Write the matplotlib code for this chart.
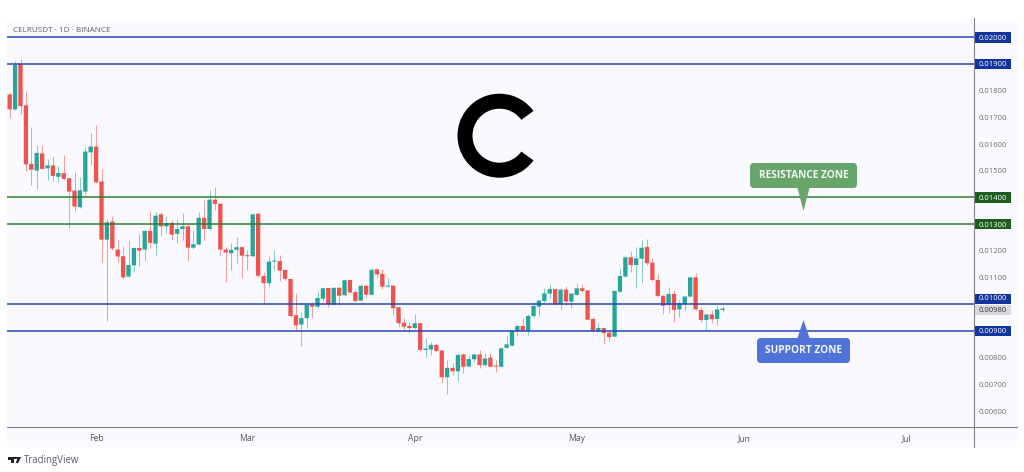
import numpy as np
import matplotlib
matplotlib.use("Agg")
import matplotlib.pyplot as plt
import matplotlib.dates as mdates
from matplotlib.patches import Rectangle, FancyBboxPatch, Polygon, Wedge
from matplotlib.transforms import blended_transform_factory

symbol_title = "CELRUSDT · 1D · BINANCE"
start_date = "2025-01-16"

opens = [
0.01786,0.01730,0.01899,0.01745,0.01526,0.01501,0.01565,0.01509,0.01520,0.01478,
0.01491,0.01472,0.01426,0.01364,0.01422,0.01569,0.01591,0.01460,0.01242,0.01310,
0.01205,0.01180,0.01104,0.01146,0.01211,0.01205,0.01275,0.01227,0.01337,0.01292,
0.01305,0.01264,0.01282,0.01292,0.01212,0.01224,0.01324,0.01282,0.01392,0.01377,
0.01205,0.01191,0.01204,0.01214,0.01182,0.01180,0.01339,0.01106,0.01079,0.01160,
0.01162,0.01129,0.01095,0.00959,0.00924,0.00948,0.00999,0.00991,0.01021,0.01061,
0.00999,0.01062,0.01034,0.01091,0.01046,0.01014,0.01069,0.01036,0.01131,0.01114,
0.01066,0.01070,0.00989,0.00931,0.00919,0.00911,0.00929,0.00829,0.00831,0.00848,
0.00827,0.00727,0.00762,0.00749,0.00812,0.00767,0.00794,0.00812,0.00772,0.00800,
0.00770,0.00766,0.00837,0.00845,0.00900,0.00919,0.00901,0.00956,0.00991,0.01012,
0.01040,0.01057,0.01001,0.01055,0.01010,0.01035,0.01060,0.01052,0.00945,0.00901,
0.00911,0.00894,0.00879,0.01047,0.01104,0.01176,0.01147,0.01171,0.01215,0.01156,
0.01091,0.01032,0.00997,0.01039,0.00981,0.01001,0.01029,0.01101,0.00979,0.00941,
0.00962,0.00945,0.00979]
closes = [
0.01730,0.01896,0.01742,0.01524,0.01504,0.01567,0.01507,0.01520,0.01481,0.01492,
0.01470,0.01422,0.01366,0.01427,0.01572,0.01591,0.01457,0.01242,0.01307,0.01209,
0.01179,0.01101,0.01147,0.01211,0.01201,0.01275,0.01230,0.01332,0.01292,0.01304,
0.01261,0.01282,0.01292,0.01212,0.01225,0.01324,0.01282,0.01392,0.01376,0.01205,
0.01194,0.01204,0.01214,0.01182,0.01180,0.01337,0.01107,0.01079,0.01160,0.01162,
0.01126,0.01095,0.00956,0.00921,0.00948,0.00999,0.00991,0.01024,0.01060,0.00999,
0.01062,0.01032,0.01090,0.01044,0.01012,0.01069,0.01036,0.01129,0.01112,0.01066,
0.01069,0.00985,0.00929,0.00916,0.00911,0.00929,0.00829,0.00834,0.00848,0.00825,
0.00727,0.00762,0.00749,0.00810,0.00766,0.00795,0.00812,0.00772,0.00797,0.00766,
0.00767,0.00835,0.00850,0.00900,0.00919,0.00901,0.00956,0.00994,0.01014,0.01041,
0.01057,0.01000,0.01055,0.01010,0.01040,0.01060,0.01050,0.00942,0.00901,0.00911,
0.00892,0.00877,0.01050,0.01106,0.01176,0.01147,0.01172,0.01212,0.01154,0.01091,
0.01031,0.00994,0.01039,0.00979,0.01004,0.01029,0.01101,0.00981,0.00941,0.00962,
0.00944,0.00981,0.00984]
highs = [
0.01790,0.01911,0.01917,0.01799,0.01665,0.01595,0.01595,0.01546,0.01557,0.01517,
0.01561,0.01474,0.01496,0.01477,0.01590,0.01640,0.01670,0.01507,0.01320,0.01330,
0.01242,0.01217,0.01242,0.01213,0.01265,0.01277,0.01351,0.01345,0.01345,0.01332,
0.01317,0.01321,0.01342,0.01302,0.01280,0.01346,0.01392,0.01427,0.01440,0.01377,
0.01215,0.01230,0.01251,0.01217,0.01202,0.01337,0.01344,0.01120,0.01179,0.01204,
0.01185,0.01129,0.01095,0.01041,0.00971,0.00999,0.01010,0.01048,0.01060,0.01061,
0.01062,0.01066,0.01094,0.01094,0.01057,0.01075,0.01075,0.01135,0.01135,0.01131,
0.01097,0.01070,0.00989,0.00947,0.00935,0.00964,0.00929,0.00872,0.00860,0.00854,
0.00827,0.00791,0.00781,0.00816,0.00816,0.00810,0.00819,0.00829,0.00816,0.00816,
0.00791,0.00839,0.00881,0.00900,0.00922,0.00948,0.00962,0.01010,0.01016,0.01060,
0.01075,0.01057,0.01060,0.01069,0.01041,0.01079,0.01076,0.01054,0.00954,0.00935,
0.00916,0.00904,0.01050,0.01135,0.01181,0.01200,0.01216,0.01241,0.01244,0.01172,
0.01114,0.01035,0.01064,0.01054,0.01016,0.01031,0.01101,0.01116,0.00989,0.00965,
0.00979,0.00997,0.00994]
lows = [
0.01699,0.01728,0.01711,0.01499,0.01446,0.01430,0.01505,0.01464,0.01461,0.01457,
0.01467,0.01286,0.01351,0.01361,0.01411,0.01520,0.01455,0.01157,0.00936,0.01205,
0.01157,0.01095,0.01101,0.01120,0.01145,0.01164,0.01211,0.01186,0.01255,0.01267,
0.01242,0.01230,0.01242,0.01161,0.01207,0.01221,0.01240,0.01280,0.01355,0.01180,
0.01082,0.01130,0.01155,0.01099,0.01127,0.01177,0.01102,0.01001,0.01066,0.01129,
0.01089,0.01091,0.00954,0.00899,0.00844,0.00912,0.00948,0.00985,0.01014,0.00991,
0.00997,0.00997,0.01031,0.01041,0.01009,0.01011,0.01022,0.01034,0.01100,0.01057,
0.01064,0.00960,0.00914,0.00904,0.00894,0.00909,0.00826,0.00801,0.00810,0.00822,
0.00706,0.00664,0.00735,0.00714,0.00744,0.00765,0.00785,0.00760,0.00770,0.00764,
0.00747,0.00765,0.00835,0.00844,0.00881,0.00899,0.00885,0.00954,0.00956,0.01010,
0.01022,0.00997,0.00979,0.00997,0.00985,0.01034,0.01047,0.00941,0.00897,0.00897,
0.00851,0.00862,0.00876,0.01046,0.01101,0.01120,0.01060,0.01079,0.01147,0.01089,
0.01026,0.00964,0.00966,0.00935,0.00951,0.00979,0.01026,0.00979,0.00935,0.00904,
0.00929,0.00922,0.00970]

blue_levels = [0.020, 0.019, 0.010, 0.009]
green_levels = [0.014, 0.013]
price_ticks = [0.006,0.007,0.008,0.009,0.010,0.011,0.012,0.013,0.014,0.015,0.016,0.017,0.018,0.019,0.020]
last_price = 0.0098
month_ticks = ["2025-02-01","2025-03-01","2025-04-01","2025-05-01","2025-06-01","2025-07-01"]
month_names = ["Feb","Mar","Apr","May","Jun","Jul"]

UP, DOWN = "#26a69a", "#ef5350"
BLUE, GREEN = "#2447b5", "#2f7d32"
TAG_BLUE, TAG_GREEN = "#12349c", "#1b5e20"
AXIS = "#80838e"
PANE = "#fafafe"
FONT = "Open Sans"

W, H = 1024, 472
fig = plt.figure(figsize=(W/100, H/100), dpi=100, facecolor="white")
L, R, T, B = 7, 973.7, 20, 427
PX_PER_PRICE = 26.7/0.001
fig.patches.append(Rectangle((7/W, 1-447/H), (1017-7)/W, (447-T)/H, transform=fig.transFigure,
                             facecolor=PANE, edgecolor="none", zorder=-5))
ax = fig.add_axes([L/W, 1-B/H, (R-L)/W, (B-T)/H], facecolor="none")

n = len(opens)
dates = np.datetime64(start_date) + np.arange(n)
x = mdates.date2num(dates)
o, c, h, l = map(np.array, (opens, closes, highs, lows))
cols = [UP if ci >= oi else DOWN for oi, ci in zip(o, c)]

ax.vlines(x, l, h, colors=cols, linewidth=0.75, alpha=0.55, zorder=2)
body = np.maximum(np.abs(c-o), 0.00004)
bars = ax.bar(x, body, bottom=np.minimum(o, c), width=0.8, color=cols, linewidth=0, zorder=2.2)
for b in bars:
    b.set_snap(False)

feb1 = mdates.date2num(np.datetime64("2025-02-01"))
ax.set_xlim(feb1-16.5, feb1+162.5)
ax.set_ylim(0.005404, 0.020648)

ax.hlines(blue_levels, *ax.get_xlim(), colors=BLUE, linewidth=1.1, zorder=3)
ax.hlines(green_levels, *ax.get_xlim(), colors=GREEN, linewidth=1.1, zorder=3)

for s in ("top", "left", "right", "bottom"):
    ax.spines[s].set_visible(False)
ax.yaxis.tick_right()
ax.set_yticks(price_ticks)
ax.set_yticklabels(["" if abs(p-0.010) < 1e-9 else f"{p:.5f}" for p in price_ticks],
                   fontsize=5.5, family=FONT, color="#6a6d78", ha="left")
ax.tick_params(axis="y", length=0, pad=3.7)
ax.set_xticks(mdates.date2num(np.array(month_ticks, dtype="datetime64[D]")))
ax.set_xticklabels(month_names, fontsize=6.2, family=FONT, color="#555862")
ax.tick_params(axis="x", length=0, pad=5.2)

trans = blended_transform_factory(ax.transAxes, ax.transData)
tag_w = 37/(R-L)
tag_h = 10.5/PX_PER_PRICE
for lab, p in zip(ax.get_yticklabels(), price_ticks):
    if any(abs(p-v) < 1e-9 for v in blue_levels+green_levels):
        lab.set_color("white")
        col = TAG_BLUE if any(abs(p-v) < 1e-9 for v in blue_levels) else TAG_GREEN
        shift = 5.5/PX_PER_PRICE if abs(p-0.010) < 1e-9 else 0
        ax.add_patch(Rectangle((1, p+shift-tag_h/2), tag_w, tag_h, transform=trans, facecolor=col,
                               edgecolor="none", clip_on=False, zorder=1.2))
        if shift:
            ax.text(1+5.3/(R-L), p+shift, f"{p:.5f}", transform=trans, fontsize=5.5, family=FONT,
                    color="white", va="center", ha="left", zorder=1.3)
last_y = last_price - 0.00002
ax.add_patch(Rectangle((1, last_y-tag_h/2), tag_w, tag_h, transform=trans, facecolor="#d9dae0",
                       edgecolor="none", clip_on=False, zorder=1.2))
ax.text(1+5.3/(R-L), last_y, f"{last_price:.5f}", transform=trans, fontsize=5.5, family=FONT,
        color="#33353d", va="center", ha="left", zorder=1.3)

# overlay in pixel space for annotations and chrome
ov = fig.add_axes([0, 0, 1, 1], facecolor="none")
ov.set_xlim(0, W); ov.set_ylim(H, 0); ov.axis("off")
ov.plot([R, R], [T-2, 447], color=AXIS, lw=0.8)
ov.plot([L, 1017], [B, B], color=AXIS, lw=0.8)
ov.text(13, 30, symbol_title, fontsize=5.85, family=FONT, color="#5d606b", va="center")

# "C" logo
ov.add_patch(Wedge((499.5, 135.7), 42, 36, 324, width=15, facecolor="black", edgecolor="none"))

# callouts
def callout(x0, x1, y0, y1, tip, base_y, color, text):
    ov.add_patch(FancyBboxPatch((x0+3, y0+3), x1-x0-6, y1-y0-6, boxstyle="round,pad=3,rounding_size=4",
                                facecolor=color, edgecolor="none", zorder=5))
    ov.add_patch(Polygon([(tip[0]-6, base_y), (tip[0]+6, base_y), tip], facecolor=color, edgecolor="none", zorder=5))
    ov.text((x0+x1)/2, (y0+y1)/2, text, color="#f2f6f2", fontsize=7.3, family=FONT, fontweight="bold",
            ha="center", va="center", zorder=6)

callout(750, 857, 163, 188, (803.5, 211), 188, "#67a56a", "RESISTANCE ZONE")
callout(757, 850, 338, 363, (803.5, 320), 338, "#4f73d9", "SUPPORT ZONE")

# TradingView mark
ov.add_patch(Polygon([(8,457),(14,457),(14,463),(11,463),(11,459.5),(8,459.5)], facecolor="#1e222d", edgecolor="none"))
ov.add_patch(Polygon([(14.8,457),(21,457),(18.2,463),(15.6,463),(17.2,459.5)], facecolor="#1e222d", edgecolor="none"))
ov.add_patch(Rectangle((14.2,457),1.6,2.2, facecolor="#1e222d", edgecolor="none"))
ov.text(24, 460, "TradingView", fontsize=6.9, family=FONT, color="#5a5d68", va="center")

fig.savefig("out.png", dpi=100)
